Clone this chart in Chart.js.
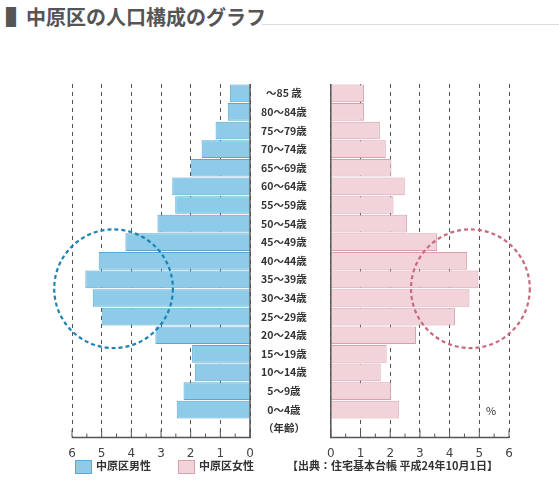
<!DOCTYPE html>
<html><head><meta charset="utf-8">
<script src="https://cdn.jsdelivr.net/npm/chart.js@4"></script>
<style>
body{margin:0;background:#fff;width:559px;height:494px;position:relative;overflow:hidden;font-family:"Noto Sans CJK JP",sans-serif;}
.t{position:absolute;white-space:nowrap;}
</style></head><body>
<div class="t" style="left:6px;top:2px;font-size:20px;font-weight:bold;color:#555;">▌中原区の人口構成のグラフ</div>
<div style="position:absolute;left:262px;top:24px;width:297px;height:1px;background:#ddd;"></div>
<div style="position:absolute;left:30px;top:70px;width:300px;height:400px;"><canvas id="cm"></canvas></div>
<div style="position:absolute;left:318px;top:70px;width:241px;height:400px;"><canvas id="cf"></canvas></div>
<div class="t" style="left:486px;top:402px;font-size:11px;color:#333;">%</div>
<div style="position:absolute;left:75px;top:460px;width:15px;height:12px;background:#8ecbe8;border:1px solid #5aa9d2;"></div>
<div class="t" style="left:96px;top:457px;font-size:11px;font-weight:bold;color:#333;">中原区男性</div>
<div style="position:absolute;left:178px;top:460px;width:15px;height:12px;background:#f2d3da;border:1px solid #d6a0ad;"></div>
<div class="t" style="left:199px;top:457px;font-size:11px;font-weight:bold;color:#333;">中原区女性</div>
<div class="t" style="left:287px;top:457px;font-size:11px;font-weight:bold;color:#333;">【出典：住宅基本台帳 平成24年10月1日】</div>
<script>
const ages=['～85 歳','80～84歳','75～79歳','70～74歳','65～69歳','60～64歳','55～59歳','50～54歳','45～49歳','40～44歳','35～39歳','30～34歳','25～29歳','20～24歳','15～19歳','10～14歳','5～9歳','0～4歳','（年齢）'];
const male=[0.68,0.75,1.16,1.63,2.0,2.62,2.52,3.12,4.2,5.1,5.55,5.3,5.0,3.19,1.95,1.86,2.24,2.47,null];
const female=[1.12,1.12,1.65,1.85,2.04,2.49,2.11,2.57,3.58,4.59,4.97,4.67,4.18,2.87,1.88,1.68,2.03,2.29,null];
const xTicks=[0,1,2,3,4,5,6];

function deco(color,cx){return{id:'deco',afterDraw(c){
 const x=c.scales.x,y=c.scales.y,ctx=c.ctx,a=c.chartArea;ctx.save();
 ctx.strokeStyle='#555';ctx.lineWidth=1.5;
 ctx.beginPath();ctx.moveTo(x.getPixelForValue(0),a.top);ctx.lineTo(x.getPixelForValue(0),a.bottom);
 ctx.lineTo(x.getPixelForValue(6),a.bottom);ctx.stroke();
 ctx.lineWidth=1;
 for(let v=0;v<=6;v+=0.5){const px=x.getPixelForValue(v);ctx.beginPath();ctx.moveTo(px,a.bottom);ctx.lineTo(px,a.bottom-(v%1===0?8:4));ctx.stroke();}
 const cy=(y.getPixelForValue(10)+y.getPixelForValue(11))/2;
 const r=Math.abs(x.getPixelForValue(2)-x.getPixelForValue(0));
 ctx.strokeStyle=color;ctx.lineWidth=2.2;ctx.setLineDash([4,3]);
 ctx.beginPath();ctx.arc(x.getPixelForValue(cx),cy,r,0,Math.PI*2);ctx.stroke();
 ctx.restore();}}}

function mk(id,data,bg,bd,rev,pad,showY,circ,cx){
 return new Chart(document.getElementById(id),{type:'bar',
 data:{labels:ages,datasets:[{data:data,backgroundColor:bg,borderColor:bd,borderWidth:1,categoryPercentage:1,barPercentage:0.95}]},
 options:{indexAxis:'y',responsive:true,maintainAspectRatio:false,animation:false,
  layout:{padding:pad},
  plugins:{legend:{display:false},tooltip:{enabled:false}},
  scales:{
   x:{reverse:rev,min:0,max:6,afterBuildTicks(s){s.ticks=xTicks.map(v=>({value:v}));},
      grid:{color:'#555',lineWidth:1,drawTicks:false},border:{display:false,dash:[4,4]},
      ticks:{padding:9,color:'#444',font:{size:12,family:'DejaVu Sans'}}},
   y:{position:'right',display:showY,grid:{display:false},border:{display:false},
      afterFit(s){if(showY)s.width=80;},
      ticks:{crossAlign:'center',color:'#333',font:{size:10.5,weight:'bold',family:'Noto Sans CJK JP'},autoSkip:false}}
  }},plugins:[deco(circ,cx)]});
}
mk('cm',male,'#8ecbe8','#5aa9d2',true,{left:42,top:14,bottom:0,right:0},true,'#1e82b4',4.6);
mk('cf',female,'#f2d3da','#d6a0ad',false,{left:12,top:14,bottom:0,right:50},false,'#c86a7e',4.7);
</script></body></html>
